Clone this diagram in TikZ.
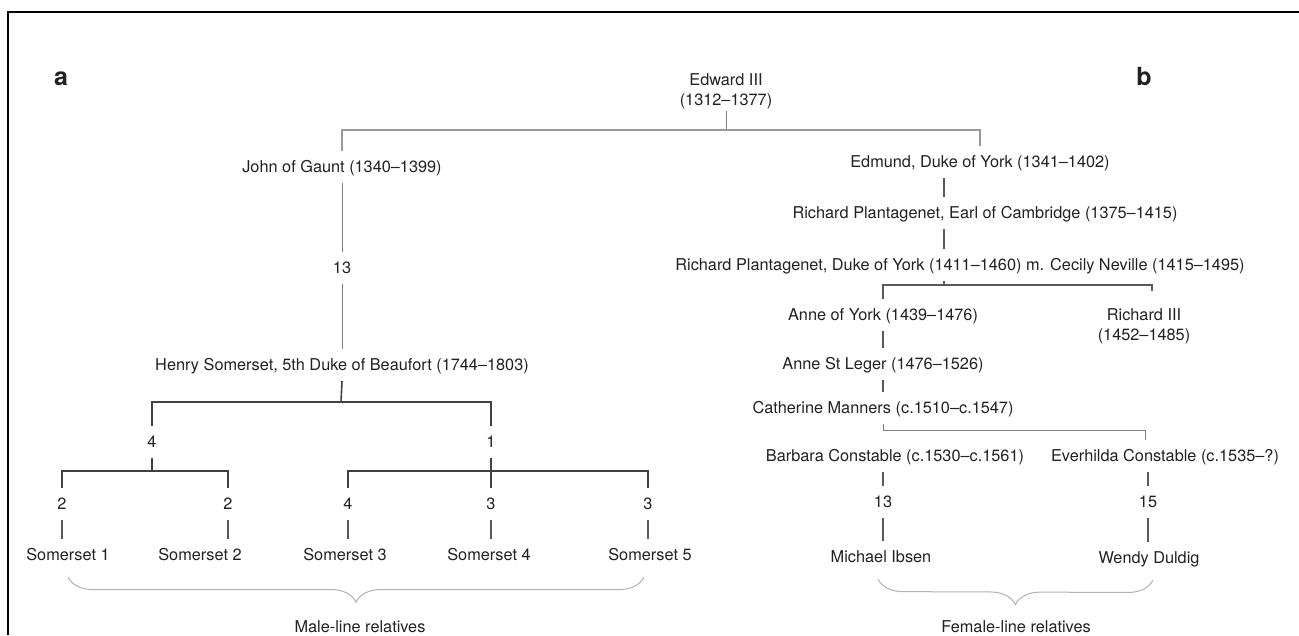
\documentclass[tikz,border=0pt]{standalone}
\usepackage{fontspec}
\setmainfont{TeX Gyre Heros}
\usetikzlibrary{decorations.pathreplacing}
\definecolor{txt}{HTML}{222222}
\begin{document}
\begin{tikzpicture}[x=1pt,y=-1pt,
  lbl/.style={font=\fontsize{16.3pt}{20pt}\selectfont, text=txt, inner xsep=2pt, inner ysep=10pt, text height=11.7pt, text depth=0pt},
  lbltwo/.style={font=\fontsize{16.3pt}{20pt}\selectfont, text=txt, inner xsep=2pt, inner ysep=2pt, align=center},
  panel/.style={font=\fontsize{25pt}{28pt}\selectfont\bfseries, text=txt, anchor=base, inner sep=0pt},
  gline/.style={draw=black!40, line width=1.3pt},
  tline/.style={draw=black!50, line width=1pt},
  dline/.style={draw=black!75, line width=1.6pt},
  mline/.style={draw=black!65, line width=1.1pt},
  bracestyle/.style={draw=black!30, line width=1pt, decorate, decoration={brace, mirror, amplitude=25pt}},
]
\useasboundingbox (0,0) rectangle (1299,635);
\fill[white] (0,0) rectangle (1299,635);
% frame
\draw[line width=2pt, black] (7.5,635) -- (7.5,12) -- (1299,12);

% panel letters
\node[panel] (pa) at (61,85) {a};
\node[panel] (pb) at (1144,85) {b};

% root
\node[lbltwo] (edw) at (726,91.5) {Edward III\\(1312--1377)};
\coordinate (h1) at (726,130);

% left branch
\node[lbl] (john) at (342,167) {John of Gaunt (1340--1399)};
\node[lbl] (n13a) at (342,268) {13};
\node[lbl] (henry) at (342,365) {Henry Somerset, 5th Duke of Beaufort (1744--1803)};
\coordinate (hj) at (341,402);
\node[lbl] (n4) at (152,442) {4};
\node[lbl] (n1) at (491,442) {1};
\coordinate (j4) at (152,471);
\coordinate (j1) at (491,471);
\node[lbl] (a2) at (62,504) {2};
\node[lbl] (b2) at (228,504) {2};
\node[lbl] (c4) at (348,504) {4};
\node[lbl] (d3) at (491,504) {3};
\node[lbl] (e3) at (648,504) {3};
\node[lbl] (s1) at (68,555) {Somerset 1};
\node[lbl] (s2) at (200,555) {Somerset 2};
\node[lbl] (s3) at (345,555) {Somerset 3};
\node[lbl] (s4) at (489,555) {Somerset 4};
\node[lbl] (s5) at (650,555) {Somerset 5};
\node[lbl] (male) at (360,627) {Male-line relatives};

% right branch
\node[lbl] (edm) at (980,162) {Edmund, Duke of York (1341--1402)};
\coordinate (k) at (944,285);
\node[lbl] (camb) at (985,213) {Richard Plantagenet, Earl of Cambridge (1375--1415)};
\node[lbl] (duke) at (960,265) {Richard Plantagenet, Duke of York (1411--1460) m. Cecily Neville (1415--1495)};
\coordinate (r3j) at (1152,285);
\coordinate (r3t) at (1152,291);
\node[lbl] (anne) at (883,315) {Anne of York (1439--1476)};
\node[lbltwo] (r3) at (1144,326.5) {Richard III\\(1452--1485)};
\node[lbl] (leger) at (883,364) {Anne St Leger (1476--1526)};
\node[lbl] (cath) at (883,408) {Catherine Manners (c.1510--c.1547)};
\coordinate (cj) at (1145,430);
\node[lbl] (barb) at (895,456) {Barbara Constable (c.1530--c.1561)};
\node[lbl] (ever) at (1165,456) {Everhilda Constable (c.1535--?)};
\node[lbl] (n13b) at (883,502) {13};
\node[lbl] (n15) at (1148,502) {15};
\node[lbl] (mich) at (881,557) {Michael Ibsen};
\node[lbl] (wendy) at (1149,558) {Wendy Duldig};
\node[lbl] (female) at (1016,627) {Female-line relatives};

% connectors: root
\draw[tline] (edw.south) -- (h1);
\draw[gline] (john.north) |- (h1) -| (edm.north);

% left chain
\draw[tline] (john.south) -- (n13a.north);
\draw[tline] (n13a.south) -- (henry.north);
\draw[dline] (henry.south) -- (hj);
\draw[dline] (n4.north) |- (hj) -| (n1.north);
\draw[dline] (n4.south) -- (j4);
\draw[dline] (a2.north) |- (j4) -| (b2.north);
\draw[dline] (n1.south) -- (j1);
\draw[dline] (c4.north) |- (j1) -| (e3.north);
\draw[dline] (j1) -- (d3.north);
\draw[mline] (a2.south) -- (a2.south |- s1.north);
\draw[mline] (b2.south) -- (b2.south |- s2.north);
\draw[mline] (c4.south) -- (c4.south |- s3.north);
\draw[mline] (d3.south) -- (d3.south |- s4.north);
\draw[mline] (e3.south) -- (e3.south |- s5.north);

% right chain
\draw[mline] (edm.south -| k) -- (camb.north -| k);
\draw[mline] (camb.south -| k) -- (duke.north -| k);
\draw[mline] (duke.south -| k) -- (k);
\draw[mline] (anne.north) |- (r3j) -- (r3t);
\draw[mline] (anne.south) -- (leger.north);
\draw[mline] (leger.south) -- (cath.north);
\draw[tline] (cath.south) |- (cj) -- (ever.north -| cj);
\draw[mline] (barb.south -| n13b) -- (n13b.north);
\draw[mline] (n13b.south) -- (mich.north -| n13b);
\draw[mline] (ever.south -| n15) -- (n15.north);
\draw[mline] (n15.south) -- (wendy.north -| n15);

% braces
\draw[bracestyle] ([yshift=-6pt]s1.south) -- ([xshift=-6pt,yshift=-6pt]s5.south);
\draw[bracestyle] ([xshift=-3pt,yshift=-6pt]mich.south) -- ([xshift=4pt,yshift=-6pt]wendy.south);
\end{tikzpicture}
\end{document}
